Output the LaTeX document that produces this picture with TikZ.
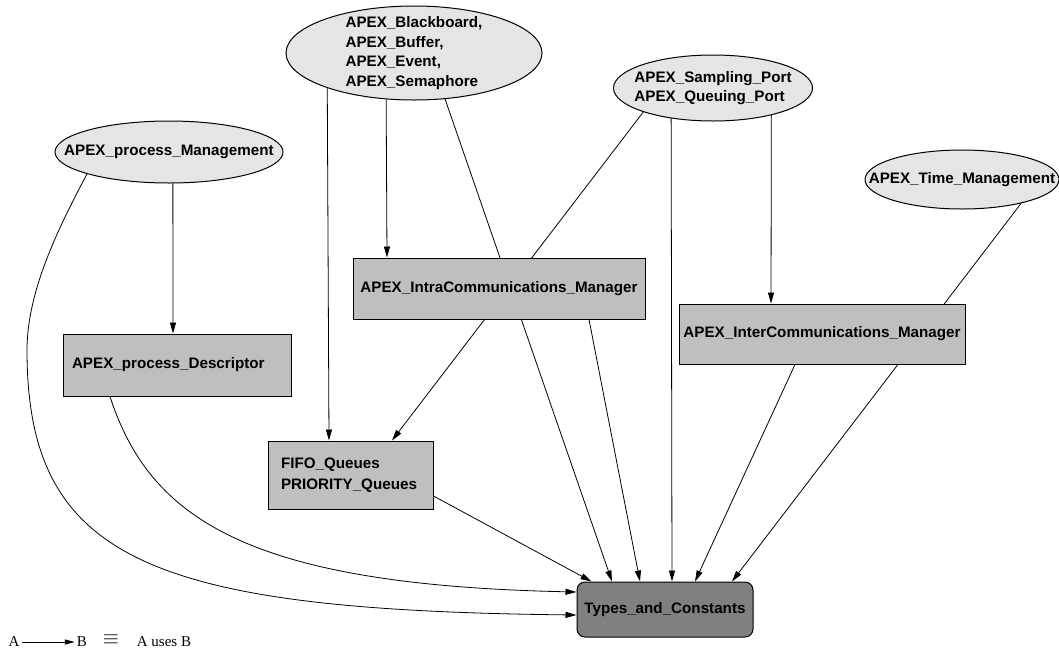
\documentclass[tikz,border=0pt]{standalone}
\usepackage{fontspec}
\setmainfont{Liberation Sans}
\newfontfamily\legendfont{Liberation Serif}
\usetikzlibrary{shapes.geometric,arrows.meta}
\pgfdeclarelayer{background}
\pgfsetlayers{background,main}
\definecolor{pkgfill}{gray}{0.9}
\definecolor{unitfill}{gray}{0.75}
\definecolor{basefill}{gray}{0.5}
\begin{document}
\begin{tikzpicture}[x=1pt,y=-1pt,
  pkg/.style={ellipse,draw,line width=1pt,fill=pkgfill,inner sep=-30pt,align=left,
    font=\bfseries\fontsize{15.2}{19.5}\selectfont},
  unit/.style={rectangle,draw,line width=1pt,fill=unitfill,inner ysep=0pt,
    font=\bfseries\fontsize{15.2}{20.5}\selectfont},
  base/.style={unit,rounded corners=8,fill=basefill},
  uses/.style={-{Triangle[length=11pt,width=6pt]},line width=0.8pt},
  legend/.style={inner sep=2pt,font=\legendfont\fontsize{15}{17}\selectfont}]
\useasboundingbox (0,0) rectangle (1059,654);
% packages
\node[pkg,minimum width=256,minimum height=94] (bb) at (414,53) {APEX\_Blackboard,\\APEX\_Buffer,\\APEX\_Event,\\APEX\_Semaphore};
\node[pkg,minimum width=199,minimum height=66] (sp) at (713,88) {APEX\_Sampling\_Port\\APEX\_Queuing\_Port};
\node[pkg,minimum width=228,minimum height=62] (pm) at (169,152) {APEX\_process\_Management};
\node[pkg,minimum width=194,minimum height=59] (tm) at (962,179.5) {APEX\_Time\_Management};
% units
\node[unit,minimum width=292,minimum height=61] (intra) at (499,288.5) {APEX\_IntraCommunications\_Manager};
\node[unit,minimum width=286,minimum height=60] (inter) at (822,334) {APEX\_InterCommunications\_Manager};
\node[unit,text width=210,inner xsep=9,align=left,minimum height=62] (desc) at (177,365) {APEX\_process\_Descriptor};
\node[unit,text width=139,inner xsep=13,align=left,minimum height=68] (fifo) at (350.5,475) {FIFO\_Queues\\PRIORITY\_Queues};
\node[base,minimum width=176,minimum height=55] (types) at (665,609.5) {Types\_and\_Constants};
% uses
\begin{pgfonlayer}{background}
\draw[uses] (bb.202.4) -- ([xshift=-21.5]fifo.north);
\draw[uses] (bb.239.5) -- ([xshift=-112]intra.north);
\draw[uses] (bb.304.2) -- ([xshift=-53]types.north);
\draw[uses] (sp.199.5) -- ([xshift=41.5]fifo.north);
\draw[uses] (sp.216.2) -- ([xshift=7]types.north);
\draw[uses] (sp.335.2) -- ([xshift=-51]inter.north);
\draw[uses] (pm.277.4) -- ([xshift=-4]desc.north);
\draw[uses] (pm.195.8) .. controls (60,225) and (27,290) .. (27,350)
  .. controls (27,560) and (150,610) .. ([yshift=-5.5]types.west);
\draw[uses] ([xshift=-67]desc.south) .. controls (150,520) and (250,585) .. ([yshift=17.5]types.west);
\draw[uses] ([yshift=-21]fifo.east) -- ([xshift=15]types.north west);
\draw[uses] ([xshift=90]intra.south) -- ([xshift=-25]types.north);
\draw[uses] ([xshift=-27]inter.south) -- ([xshift=30]types.north);
\draw[uses] (tm.338.9) -- ([xshift=67]types.north);
\end{pgfonlayer}
% legend
\node[legend] (la) at (14,642) {A};
\node[legend] (lb) at (82,642) {B};
\draw[-{Triangle[length=10pt,width=5pt]},line width=0.8pt] (la) -- (lb);
\node[legend,font=\fontsize{22}{22}\selectfont] (leq) at (111,640) {$\equiv$};
\node[legend] (ltxt) at (164,642) {A uses B};
\end{tikzpicture}
\end{document}
